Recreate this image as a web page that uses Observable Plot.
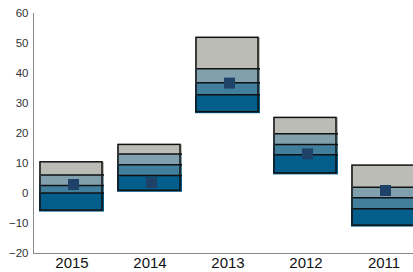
<!DOCTYPE html>
<html><head><meta charset="utf-8">
<script src="https://cdn.jsdelivr.net/npm/d3@7"></script>
<script src="https://cdn.jsdelivr.net/npm/@observablehq/plot@0.6"></script>
<style>html,body{margin:0;padding:0;background:#fff;overflow:hidden}</style>
</head><body><div id="chart"></div>
<script>
const years   = ["2015", "2014", "2013", "2012", "2011"];
const highVal = [10.4, 16.2, 51.9, 25.2, 9.3];
const upperQ  = [6.2, 13.2, 41.6, 19.9, 2.1];
const midVal  = [2.7, 9.6, 36.9, 16.3, -1.4];
const lowerQ  = [0.2, 6.0, 32.9, 12.9, -5.1];
const lowVal  = [-6.2, 0.4, 26.6, 6.2, -11.2];
const meanVal = [3.0, 3.6, 36.8, 13.2, 1.0];
const yTicks  = [-20, -10, 0, 10, 20, 30, 40, 50, 60];

const rows = years.map((year, i) => ({
  year, high: highVal[i], upper: upperQ[i], mid: midVal[i], lower: lowerQ[i], low: lowVal[i], mean: meanVal[i]
}));

const ink = "#111";
const chart = Plot.plot({
  width: 413,
  height: 272,
  marginLeft: 33,
  marginRight: 0,
  marginTop: 13,
  marginBottom: 19,
  style: {fontFamily: "'Liberation Sans', Arial, sans-serif", background: "#fff"},
  x: {type: "band", domain: years, range: [24.4, 431], padding: 0.173, label: null},
  y: {domain: [-20, 60], label: null},
  marks: [
    Plot.barY(rows, {x: "year", y1: "upper", y2: "high", fill: "#bcbcb7"}),
    Plot.barY(rows, {x: "year", y1: "mid", y2: "upper", fill: "#80a0ae"}),
    Plot.barY(rows, {x: "year", y1: "lower", y2: "mid", fill: "#417f9d"}),
    Plot.barY(rows, {x: "year", y1: "low", y2: "lower", fill: "#045e8c"}),
    Plot.barY(rows, {x: "year", y1: "low", y2: "high", fill: "none", stroke: ink, strokeWidth: 1.5, insetLeft: 1, insetRight: 2, insetBottom: 1.5}),
    Plot.tickY(rows, {x: "year", y: "upper", stroke: ink, strokeWidth: 1.5, insetLeft: 2}),
    Plot.tickY(rows, {x: "year", y: "mid", stroke: ink, strokeWidth: 1.5, insetLeft: 2}),
    Plot.tickY(rows, {x: "year", y: "lower", stroke: ink, strokeWidth: 1.5, insetLeft: 2}),
    Plot.dot(rows, {x: "year", y: "mean", symbol: "square", r: 6.2, fill: "#1f4268", dx: 1.5}),
    Plot.ruleY([-20], {stroke: "#888"}),
    Plot.frame({anchor: "left", stroke: "#888"}),
    Plot.axisY(yTicks, {tickSize: 0, tickPadding: 5, fontSize: 11.5, fill: "#333"}),
    Plot.axisX({tickSize: 0, tickPadding: 4, fontSize: 15, fill: "#111"})
  ]
});
document.getElementById("chart").appendChild(chart);
</script>
</body></html>
